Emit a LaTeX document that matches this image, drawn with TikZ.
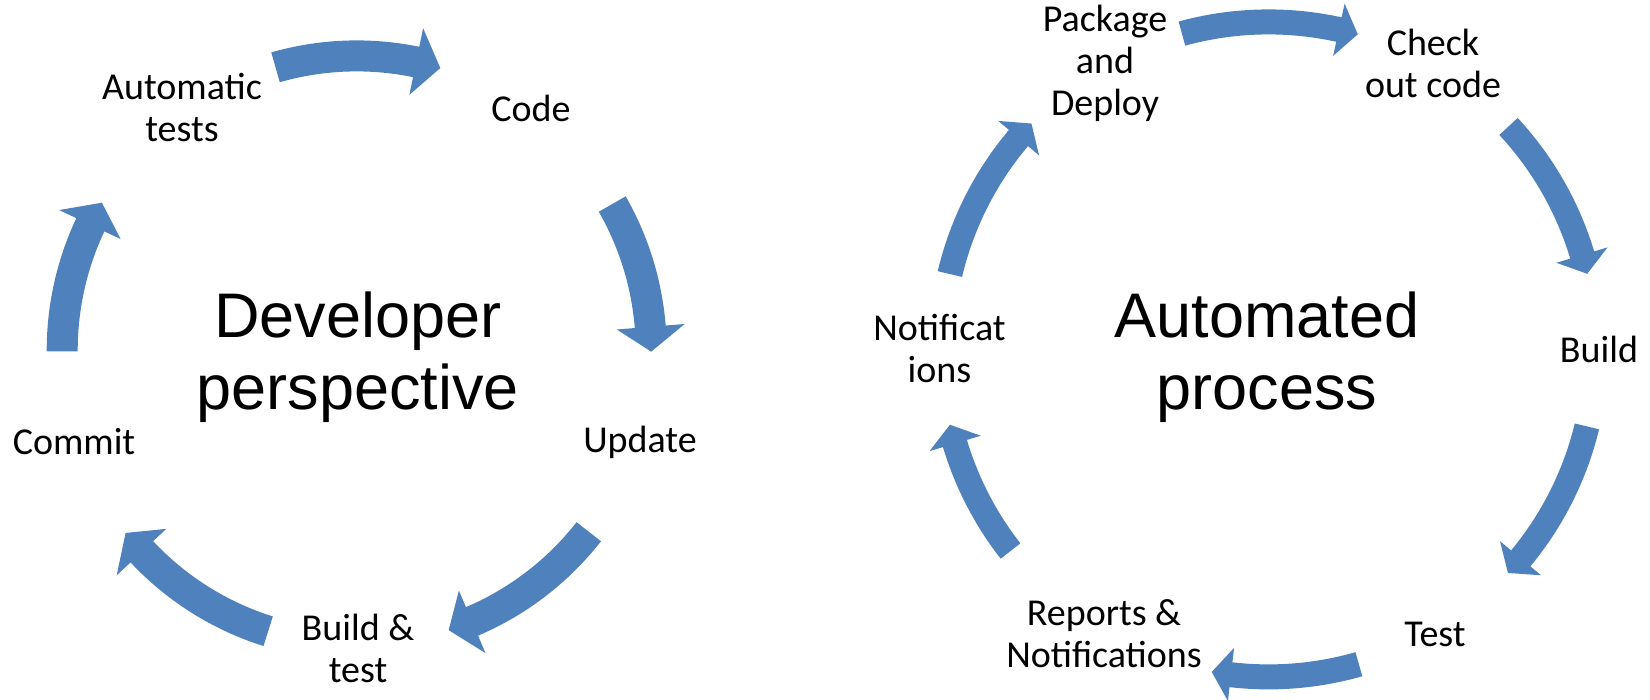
\documentclass[tikz,border=0pt]{standalone}
\usepackage{fontspec}
\setmainfont{Carlito}
\newfontfamily\arialfont{Liberation Sans}
\definecolor{arrowblue}{HTML}{4F81BD}
% #1 centre coordinate, #2 tail angle, #3 tip angle, #4 inner shaft radius,
% #5 outer shaft radius, #6 inner barb radius, #7 outer barb radius, #8 head length (deg)
\newcommand\cyclearrow[8]{%
  \pgfmathsetmacro\arrHead{#3+((#2)>(#3)?(#8):-(#8))}%
  \pgfmathsetmacro\arrMid{(#4+#5)/2}%
  \fill[arrowfill,shift={(#1)}] (#2:#5pt)
    arc[start angle=#2,end angle=\arrHead,radius=#5pt]
    -- (\arrHead:#7pt) -- (#3:\arrMid pt) -- (\arrHead:#6pt) -- (\arrHead:#4pt)
    arc[start angle=\arrHead,end angle=#2,radius=#4pt] -- cycle;
}
\newcommand\leftarrowshape[2]{\cyclearrow{cL}{#1}{#2}{279}{310}{261}{329}{4.85}}
\newcommand\rightarrowshape[2]{\cyclearrow{cR}{#1}{#2}{315}{340}{300.5}{354}{3.4}}
\begin{document}
\begin{tikzpicture}[x=1pt,y=1pt,
  arrowfill/.style={fill=arrowblue},
  lbl/.style={font=\fontsize{38}{42}\selectfont, align=center, inner sep=0pt, text=black},
  big/.style={font=\arialfont\fontsize{63}{72}\selectfont, align=center, inner sep=0pt, text=black}]
\useasboundingbox (0,0) rectangle (1650,-700);
\coordinate (cL) at (356.7,-350.4);
\coordinate (cR) at (1268.6,-349.4);

% ---- left cycle ----
\node[big] (devp) at (357.8,-357) {Developer\\perspective};
\node[lbl] (code) at (531,-108) {Code};
\node[lbl] (update) at (640,-442) {Update};
\node[lbl] (buildtest) at (358,-648) {Build \&\\test};
\node[lbl] (commit) at (74,-442) {Commit};
\node[lbl] (autotests) at (182,-108) {Automatic\\tests};

\leftarrowshape{106}{73.5}
\leftarrowshape{29.8}{-0.25}
\leftarrowshape{-38}{-71.8}
\leftarrowshape{-107.5}{-141.7}
\leftarrowshape{180.2}{149.9}

% ---- right cycle ----
\node[big] (autop) at (1267,-357) {Automated\\process};
\node[lbl] (pkg) at (1105,-63) {Package\\and\\Deploy};
\node[lbl] (checkout) at (1433,-63) {Check\\out code};
\node[lbl] (build) at (1599,-349) {Build};
\node[lbl] (test) at (1435,-634) {Test};
\node[lbl] (reports) at (1104,-634) {Reports \&\\Notifications};
\node[lbl] (notif) at (939.5,-349) {Notificat\\ions};

\rightarrowshape{105.35}{74.2}
\rightarrowshape{42.9}{13.35}
\rightarrowshape{-13.6}{-43.05}
\rightarrowshape{-74}{-100}
\rightarrowshape{218}{193.3}
\rightarrowshape{166.7}{136.4}
\end{tikzpicture}
\end{document}
